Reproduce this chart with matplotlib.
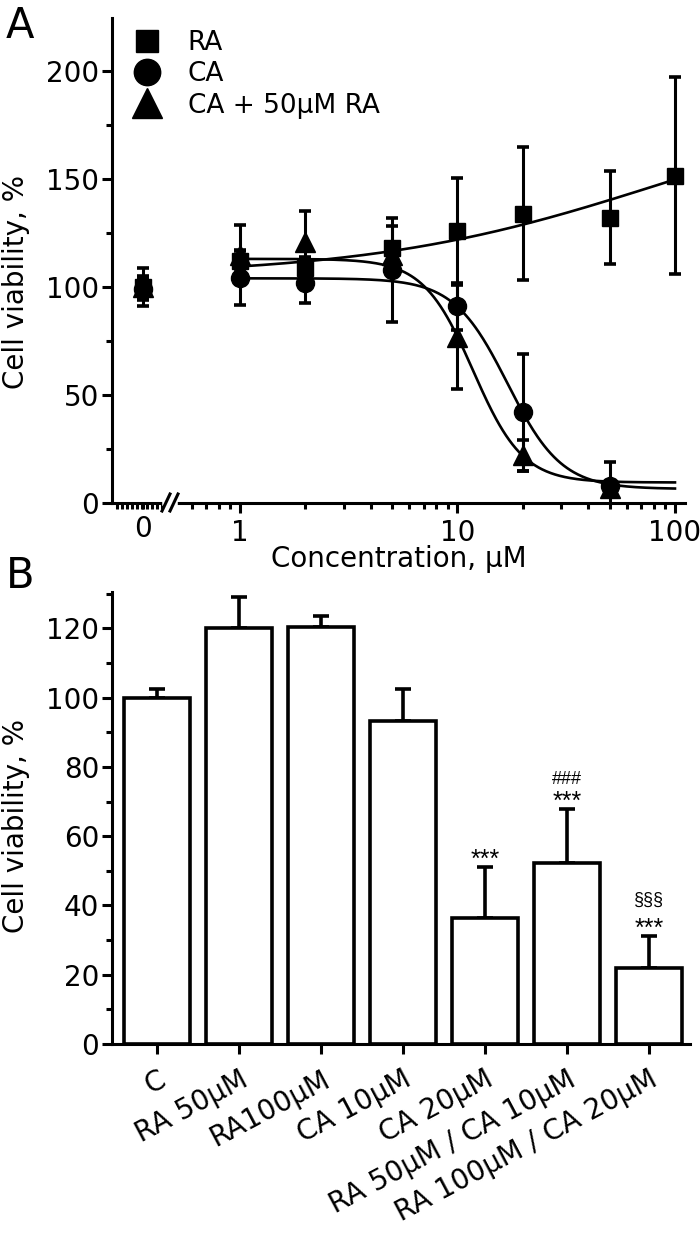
import numpy as np
import matplotlib
matplotlib.use("Agg")
import matplotlib.pyplot as plt
from matplotlib.lines import Line2D
from matplotlib.ticker import FixedLocator


# ─────────────────────────────────────────────
# Panel A : dose response
# ─────────────────────────────────────────────

conc_ra = [0, 1, 2, 5, 10, 20, 50, 100]
ra_mean = [100, 112, 109, 118, 126, 134, 132, 151.5]
ra_sd = [9, 5, 5, 10, 24.5, 31, 21.5, 45.5]

conc_ca = [0, 1, 2, 5, 10, 20, 50]
ca_mean = [99, 104, 102, 108, 91, 42, 8]
ca_sd = [5, 12.5, 9.5, 24, 11, 27, 11]

conc_mix = [0, 1, 2, 5, 10, 20, 50]
mix_mean = [100, 115, 121, 115, 77, 22, 7]
mix_sd = [5, 13.5, 14, 5, 24, 7, 3]

# fitted curves: low plateau, high plateau, EC50, Hill slope
ra_fit = [105, 190, 85, 0.65]
ca_fit = [104, 6.5, 17, 3.5]
mix_fit = [113, 9.5, 11.8, 3.8]

legend_labels = ["RA", "CA", "CA + 50µM RA"]


# ─────────────────────────────────────────────
# Panel B : bar chart
# ─────────────────────────────────────────────

groups = [
    "C",
    "RA 50µM",
    "RA100µM",
    "CA 10µM",
    "CA 20µM",
    "RA 50µM / CA 10µM",
    "RA 100µM / CA 20µM",
]
bar_mean = [100, 120, 120.5, 93.2, 36.5, 52.2, 22]
bar_sd = [2.4, 9, 3.2, 9.2, 14.7, 15.6, 9.2]
stars = ["", "", "", "", "***", "***", "***"]
marks = ["", "", "", "", "", "###", "§§§"]


def hill(x, p):
    low, high, ec50, h = p
    return low + (high - low) / (1 + (ec50 / x) ** h)


plt.rcParams["font.family"] = "DejaVu Sans"
plt.rcParams["font.size"] = 20

W, H = 700, 1234
fig = plt.figure(figsize=(W / 100, H / 100), dpi=100)


def fx(px):
    return px / W


def fy(py):
    return 1 - py / H


# axes geometry (pixels)
top_y0, top_y1 = 503, 18
ax0 = fig.add_axes([fx(112), fy(top_y0), fx(170 - 112), (top_y0 - top_y1) / H])
ax1 = fig.add_axes([fx(170), fy(top_y0), fx(685 - 170), (top_y0 - top_y1) / H],
                   sharey=ax0)
axb = fig.add_axes([fx(112), fy(1044), fx(690 - 112), (1044 - 592) / H])

lw_axis = 2.2
for ax in (ax0, ax1, axb):
    for s in ax.spines.values():
        s.set_linewidth(lw_axis)
    ax.spines["top"].set_visible(False)
    ax.spines["right"].set_visible(False)
    ax.tick_params(which="both", direction="out", width=lw_axis,
                   labelsize=20, pad=2)
    ax.tick_params(which="major", length=7.2)
    ax.tick_params(which="minor", length=4.6)

ax1.spines["left"].set_visible(False)
ax1.tick_params(axis="y", which="both", left=False, labelleft=False)


# ---------- panel A ----------
series = [
    (conc_ra, ra_mean, ra_sd, "s", 12, ra_fit),
    (conc_ca, ca_mean, ca_sd, "o", 13, ca_fit),
    (conc_mix, mix_mean, mix_sd, "^", 14, mix_fit),
]

xfit = np.logspace(0, 2, 400)

for conc, m, sd, mk, ms, fit in series:
    c = np.array(conc, dtype=float)
    m = np.array(m, dtype=float)
    sd = np.array(sd, dtype=float)
    zero = c == 0

    ax1.plot(xfit, hill(xfit, fit), color="black", lw=1.9, zorder=2)

    for ax, sel in ((ax0, zero), (ax1, ~zero)):
        ax.errorbar(
            c[sel], m[sel], yerr=sd[sel],
            fmt=mk, ms=ms, color="black",
            elinewidth=2.2, capsize=4.3, capthick=2.6,
            zorder=3,
        )

ax0.set_xlim(-0.534, 0.466)
ax0.set_xticks([0])
ax0.set_xticklabels(["0"])
ax0.xaxis.set_minor_locator(FixedLocator(np.linspace(-0.45, 0.33, 10)))
ax0.tick_params(axis="x", which="major", length=4.6)

ax0.set_ylim(0, 224.5)
ax0.set_yticks([0, 50, 100, 150, 200])
ax0.yaxis.set_minor_locator(FixedLocator([25, 75, 125, 175]))

ax1.set_xscale("log")
ax1.set_xlim(0.4766, 111.2)
ax1.set_xticks([1, 10, 100])
ax1.set_xticklabels(["1", "10", "100"])
minor_x = [0.6, 0.7, 0.8, 0.9] + [k for k in range(2, 10)] + [10 * k for k in range(2, 10)]
ax1.xaxis.set_minor_locator(FixedLocator(minor_x))
ax1.xaxis.set_minor_formatter(plt.NullFormatter())

for ax in (ax0, ax1):
    ax.tick_params(axis="x", pad=4)

# axis break "//"
fig.add_artist(Line2D([fx(165), fx(175)], [fy(503), fy(503)],
                      color="white", lw=4, transform=fig.transFigure))
for dx in (0, 8):
    fig.add_artist(Line2D([fx(162 + dx), fx(170 + dx)], [fy(511), fy(494)],
                          color="black", lw=2.2, transform=fig.transFigure))

# legend
handles = [
    Line2D([], [], marker="s", ms=16.5, ls="none", color="black"),
    Line2D([], [], marker="o", ms=19, ls="none", color="black"),
    Line2D([], [], marker="^", ms=21, ls="none", color="black"),
]
fig.legend(
    handles, legend_labels,
    loc="upper left", bbox_to_anchor=(fx(131), fy(30)),
    bbox_transform=fig.transFigure,
    frameon=False, fontsize=19,
    handlelength=1.2, handletextpad=0.95,
    labelspacing=0.2, borderpad=0, borderaxespad=0,
)

fig.text(fx(398.5), fy(545), "Concentration, µM", ha="center", va="top", fontsize=20)
fig.text(fx(16), fy(282), "Cell viability, %", rotation=90,
         ha="center", va="center", fontsize=20)
fig.text(fx(6), fy(5), "A", ha="left", va="top", fontsize=30)


# ---------- panel B ----------
xb = np.arange(len(groups))

axb.bar(xb, bar_mean, width=0.8, color="white", edgecolor="black",
        linewidth=2.6, zorder=2)
axb.errorbar(xb, bar_mean, yerr=[np.zeros(len(xb)), bar_sd], fmt="none",
             ecolor="black", elinewidth=2.6, capsize=6, capthick=2.6, zorder=1)

for i in range(len(groups)):
    top = bar_mean[i] + bar_sd[i]
    if stars[i]:
        axb.annotate(stars[i], (xb[i], top), xytext=(0, 0),
                     textcoords="offset points", ha="center", va="baseline",
                     fontsize=18, family="Liberation Sans")
    if marks[i]:
        off = 18 if marks[i] == "###" else 22.5
        axb.annotate(marks[i], (xb[i], top), xytext=(0, off),
                     textcoords="offset points", ha="center", va="baseline",
                     fontsize=13, family="Liberation Sans")

axb.set_xlim(-0.55, 6.5)
axb.set_ylim(0, 130.5)
axb.set_yticks(range(0, 121, 20))
axb.yaxis.set_minor_locator(FixedLocator(range(10, 131, 20)))
axb.set_xticks(xb)
axb.set_xticklabels(groups, rotation=28, ha="right", rotation_mode="anchor")
axb.tick_params(axis="x", pad=8)

fig.text(fx(16), fy(826), "Cell viability, %", rotation=90,
         ha="center", va="center", fontsize=20)
fig.text(fx(6), fy(555), "B", ha="left", va="top", fontsize=30)

fig.savefig("out.png", dpi=100)
